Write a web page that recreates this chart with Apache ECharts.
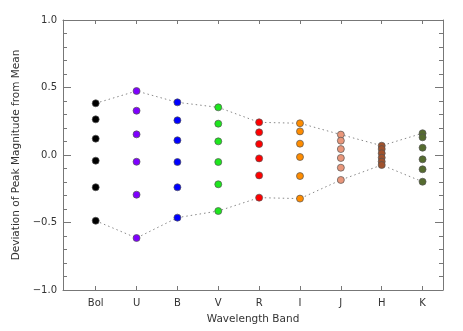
<!DOCTYPE html>
<html><head><meta charset="utf-8">
<script src="https://cdn.jsdelivr.net/npm/echarts@6/dist/echarts.min.js"></script>
<style>html,body{margin:0;padding:0;background:#fff}#c{width:463px;height:331px}</style>
</head><body><div id="c"></div>
<script>
var bands = ['Bol','U','B','V','R','I','J','H','K'];
var bandColors = ['#000000','#7f00ff','#0000ff','#1ee61e','#ff0000','#ff8c00','#e9967a','#a0522d','#556b2f'];
var valBol = [0.383, 0.264, 0.121, -0.042, -0.239, -0.487];
var valU   = [0.474, 0.328, 0.153, -0.050, -0.294, -0.615];
var valB   = [0.390, 0.257, 0.109, -0.052, -0.239, -0.464];
var valV   = [0.353, 0.232, 0.101, -0.052, -0.217, -0.415];
var valR   = [0.242, 0.168, 0.081, -0.025, -0.151, -0.316];
var valI   = [0.235, 0.175, 0.084, -0.015, -0.156, -0.323];
var valJ   = [0.151, 0.106, 0.044, -0.022, -0.094, -0.185];
var valH   = [0.069, 0.044, 0.013, -0.020, -0.049, -0.074];
var valK   = [0.161, 0.131, 0.054, -0.032, -0.106, -0.198];
var yTicks = [-1.0, -0.5, 0.0, 0.5, 1.0];
var xLabel = 'Wavelength Band';
var yLabel = 'Deviation of Peak Magnitude from Mean';

var allVals = [valBol, valU, valB, valV, valR, valI, valJ, valH, valK];
var idx = bands.map(function(_, i){ return i; });
var font = 'DejaVu Sans';
var series = allVals.map(function(vals, i){
  return {
    type: 'scatter', name: bands[i],
    data: vals.map(function(v){ return [i, v]; }),
    symbolSize: 7,
    itemStyle: { color: bandColors[i], borderColor: '#555', borderWidth: 0.7, opacity: 1 },
    z: 3
  };
});
series.unshift({
  type: 'line', data: allVals.map(function(v, i){ return [i, Math.max.apply(null, v)]; }),
  symbol: 'none', lineStyle: { color: '#888', width: 1, type: [1.5, 3] }, z: 2, silent: true
}, {
  type: 'line', data: allVals.map(function(v, i){ return [i, Math.min.apply(null, v)]; }),
  symbol: 'none', lineStyle: { color: '#888', width: 1, type: [1.5, 3] }, z: 2, silent: true
});

var axisCol = '#777';
var chart = echarts.init(document.getElementById('c'), null, { renderer: 'canvas' });
chart.setOption({
  animation: false,
  grid: { left: 63, right: 20, top: 20, bottom: 41, containLabel: false },
  xAxis: [{
    type: 'value', min: -0.8, max: 8.5, position: 'bottom',
    name: xLabel, nameLocation: 'middle', nameGap: 24,
    nameTextStyle: { fontFamily: font, fontSize: 10.5, color: '#333' },
    axisLine: { show: true, onZero: false, lineStyle: { color: axisCol, width: 1 } },
    axisTick: { show: true, inside: true, length: 4, customValues: idx, lineStyle: { color: axisCol } },
    axisLabel: { show: true, customValues: idx, margin: 8, fontFamily: font, fontSize: 10, color: '#333',
      formatter: function(v){ return bands[Math.round(v)] || ''; } },
    splitLine: { show: false }
  }, {
    type: 'value', min: -0.8, max: 8.5, position: 'top',
    axisLine: { show: true, onZero: false, lineStyle: { color: axisCol, width: 1 } },
    axisTick: { show: true, inside: true, length: 4, customValues: idx, lineStyle: { color: axisCol } },
    axisLabel: { show: false }, splitLine: { show: false }
  }],
  yAxis: [{
    type: 'value', min: -1, max: 1, interval: 0.5, position: 'left',
    name: yLabel, nameLocation: 'middle', nameGap: 35, nameRotate: 90,
    nameTextStyle: { fontFamily: font, fontSize: 10.5, color: '#333' },
    axisLine: { show: true, onZero: false, lineStyle: { color: axisCol, width: 1 } },
    axisTick: { show: true, inside: true, length: 8, lineStyle: { color: axisCol } },
    minorTick: { show: true, splitNumber: 5, length: 4, lineStyle: { color: axisCol } },
    axisLabel: { margin: 6, fontFamily: font, fontSize: 10, color: '#333',
      customValues: yTicks,
      formatter: function(v){ return (v < 0 ? '\u2212' : '') + Math.abs(v).toFixed(1); } },
    splitLine: { show: false }
  }, {
    type: 'value', min: -1, max: 1, interval: 0.5, position: 'right',
    axisLine: { show: true, onZero: false, lineStyle: { color: axisCol, width: 1 } },
    axisTick: { show: true, inside: true, length: 8, lineStyle: { color: axisCol } },
    minorTick: { show: true, splitNumber: 5, length: 4, lineStyle: { color: axisCol } },
    axisLabel: { show: false }, splitLine: { show: false }
  }],
  series: series
});
</script></body></html>
